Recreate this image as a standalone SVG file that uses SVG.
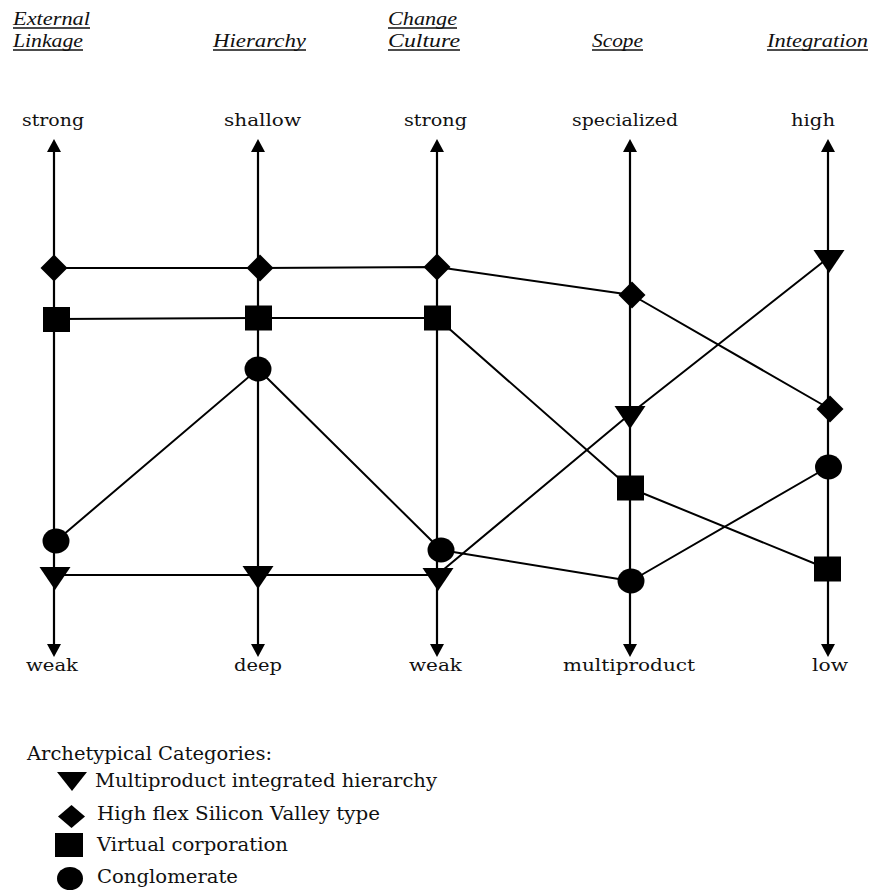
<svg xmlns="http://www.w3.org/2000/svg" xmlns:xlink="http://www.w3.org/1999/xlink" width="873" height="891" viewBox="0 0 873 891">
<style>
.hdr{font-family:"Liberation Serif","Times New Roman",serif;font-style:italic;font-size:18px;fill:#111}
.ul{stroke:#111;stroke-width:1.3}
.lbl{font-family:"DejaVu Serif","Liberation Serif",serif;font-size:17px;fill:#111}
.leg{font-family:"DejaVu Serif","Liberation Serif",serif;font-size:19px;fill:#111}
.axis{stroke:#000;stroke-width:2.2;fill:none;marker-start:url(#arr);marker-end:url(#arr)}
.conn{stroke:#000;stroke-width:2;fill:none;stroke-linejoin:round}
.mk{fill:#000}
</style>
<defs>
<marker id="arr" viewBox="0 0 13 14" refX="6" refY="7" markerWidth="13" markerHeight="14" markerUnits="userSpaceOnUse" orient="auto-start-reverse">
<path d="M0,0 L13,7 L0,14 Z" fill="#000"/>
</marker>
<polygon id="tri" points="-15.5,-8 15.5,-8 0,15"/>
<polygon id="dia" points="0,-13.5 13.5,0 0,13.5 -13.5,0"/>
<rect id="sq" x="-13.5" y="-12.5" width="27" height="25"/>
<ellipse id="cir" rx="13.5" ry="12.5"/>
</defs>
<rect width="873" height="891" fill="#fff"/>

<g id="headers">
<text class="hdr" x="13" y="25" textLength="77" lengthAdjust="spacingAndGlyphs">External</text>
<line class="ul" x1="13" y1="28" x2="90" y2="28"/>
<text class="hdr" x="13" y="47" textLength="70" lengthAdjust="spacingAndGlyphs">Linkage</text>
<line class="ul" x1="13" y1="50" x2="83" y2="50"/>
<text class="hdr" x="213" y="47" textLength="93" lengthAdjust="spacingAndGlyphs">Hierarchy</text>
<line class="ul" x1="213" y1="50" x2="306" y2="50"/>
<text class="hdr" x="388" y="25" textLength="69" lengthAdjust="spacingAndGlyphs">Change</text>
<line class="ul" x1="388" y1="28" x2="457" y2="28"/>
<text class="hdr" x="388" y="47" textLength="72" lengthAdjust="spacingAndGlyphs">Culture</text>
<line class="ul" x1="388" y1="50" x2="460" y2="50"/>
<text class="hdr" x="592" y="47" textLength="51" lengthAdjust="spacingAndGlyphs">Scope</text>
<line class="ul" x1="592" y1="50" x2="643" y2="50"/>
<text class="hdr" x="767" y="47" textLength="101" lengthAdjust="spacingAndGlyphs">Integration</text>
<line class="ul" x1="767" y1="50" x2="868" y2="50"/>
</g>

<g id="axis-labels">
<text class="lbl" x="22" y="126" textLength="62" lengthAdjust="spacingAndGlyphs">strong</text>
<text class="lbl" x="224" y="126" textLength="77" lengthAdjust="spacingAndGlyphs">shallow</text>
<text class="lbl" x="404" y="126" textLength="63" lengthAdjust="spacingAndGlyphs">strong</text>
<text class="lbl" x="572" y="126" textLength="106" lengthAdjust="spacingAndGlyphs">specialized</text>
<text class="lbl" x="791" y="126" textLength="44" lengthAdjust="spacingAndGlyphs">high</text>
<text class="lbl" x="26" y="671" textLength="52" lengthAdjust="spacingAndGlyphs">weak</text>
<text class="lbl" x="234" y="671" textLength="48" lengthAdjust="spacingAndGlyphs">deep</text>
<text class="lbl" x="409" y="671" textLength="53" lengthAdjust="spacingAndGlyphs">weak</text>
<text class="lbl" x="563" y="671" textLength="132" lengthAdjust="spacingAndGlyphs">multiproduct</text>
<text class="lbl" x="812" y="671" textLength="36" lengthAdjust="spacingAndGlyphs">low</text>
</g>

<g id="axes">
<line class="axis" x1="54" y1="146" x2="54" y2="650"/>
<line class="axis" x1="258" y1="146" x2="258" y2="650"/>
<line class="axis" x1="437" y1="146" x2="437" y2="650"/>
<line class="axis" x1="630" y1="146" x2="630" y2="650"/>
<line class="axis" x1="828" y1="146" x2="828" y2="650"/>
</g>

<g id="connectors">
<polyline id="line-silicon-valley" class="conn" points="54,268 260,268 437,267 632,295 830,409"/>
<polyline id="line-virtual" class="conn" points="56,319 258,318 437,318 630,488 828,569"/>
<polyline id="line-conglomerate" class="conn" points="56,541 258,369 441,550 631,581 828,467"/>
<polyline id="line-multiproduct" class="conn" points="55,575 258,575 437,575 630,414 828,258"/>
</g>

<g id="nodes" class="mk">
<g id="dia-ext"><use xlink:href="#dia" x="54" y="268"/></g>
<g id="dia-hier"><use xlink:href="#dia" x="260" y="268"/></g>
<g id="dia-cult"><use xlink:href="#dia" x="437" y="267"/></g>
<g id="dia-scope"><use xlink:href="#dia" x="632" y="295"/></g>
<g id="dia-integ"><use xlink:href="#dia" x="830" y="409"/></g>

<g id="sq-ext"><use xlink:href="#sq" x="56.5" y="319.5"/></g>
<g id="sq-hier"><use xlink:href="#sq" x="258.5" y="318"/></g>
<g id="sq-cult"><use xlink:href="#sq" x="437.5" y="318"/></g>
<g id="sq-scope"><use xlink:href="#sq" x="630.5" y="488"/></g>
<g id="sq-integ"><use xlink:href="#sq" x="827.5" y="569"/></g>

<g id="cir-ext"><use xlink:href="#cir" x="56" y="541"/></g>
<g id="cir-hier"><use xlink:href="#cir" x="258" y="369"/></g>
<g id="cir-cult"><use xlink:href="#cir" x="441" y="550"/></g>
<g id="cir-scope"><use xlink:href="#cir" x="631" y="581"/></g>
<g id="cir-integ"><use xlink:href="#cir" x="828.5" y="467"/></g>

<g id="tri-ext"><use xlink:href="#tri" x="55" y="575"/></g>
<g id="tri-hier"><use xlink:href="#tri" x="258" y="574"/></g>
<g id="tri-cult"><use xlink:href="#tri" x="438" y="576"/></g>
<g id="tri-scope"><use xlink:href="#tri" x="630" y="414"/></g>
<g id="tri-integ"><use xlink:href="#tri" x="829" y="258"/></g>
</g>

<g id="legend">
<text class="leg" x="27" y="760" textLength="245" lengthAdjust="spacingAndGlyphs">Archetypical Categories:</text>
<g id="legend-tri" class="mk"><polygon points="57,772 87,772 72,791"/></g>
<text class="leg" x="95" y="787" textLength="342" lengthAdjust="spacingAndGlyphs">Multiproduct integrated hierarchy</text>
<g id="legend-dia" class="mk"><polygon points="71.5,805 85,816.5 71.5,828 58,816.5"/></g>
<text class="leg" x="97" y="820" textLength="283" lengthAdjust="spacingAndGlyphs">High flex Silicon Valley type</text>
<g id="legend-sq" class="mk"><rect x="55" y="833" width="28" height="24"/></g>
<text class="leg" x="97" y="851" textLength="191" lengthAdjust="spacingAndGlyphs">Virtual corporation</text>
<g id="legend-cir" class="mk"><ellipse cx="70" cy="878.5" rx="13" ry="11.5"/></g>
<text class="leg" x="97" y="883" textLength="141" lengthAdjust="spacingAndGlyphs">Conglomerate</text>
</g>
</svg>
